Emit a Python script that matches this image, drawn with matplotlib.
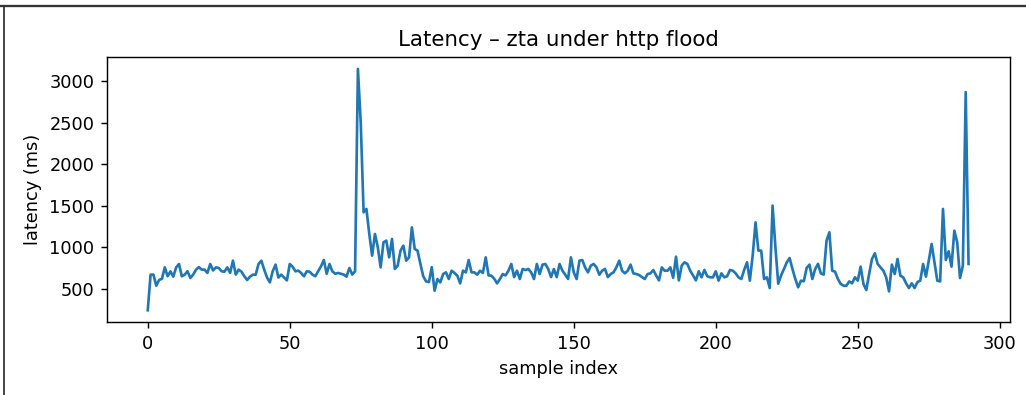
import matplotlib
matplotlib.use("Agg")
import matplotlib.pyplot as plt
from matplotlib.lines import Line2D

latency_ms = [
    240, 669, 670, 536, 605, 620, 757, 650, 709, 645,
    757, 798, 650, 669, 710, 629, 670, 730, 760, 730,
    730, 690, 798, 720, 757, 750, 710, 705, 757, 690,
    838, 670, 730, 705, 650, 605, 645, 669, 669, 798,
    838, 730, 635, 576, 710, 790, 635, 670, 635, 600,
    798, 765, 710, 718, 690, 650, 710, 705, 670, 650,
    710, 770, 846, 680, 798, 710, 680, 690, 680, 670,
    645, 750, 670, 710, 3150, 2500, 1421, 1462, 1160, 898,
    1160, 999, 757, 1059, 1080, 878, 1100, 738, 778, 959,
    1019, 838, 878, 1240, 979, 959, 798, 650, 588, 580,
    760, 476, 617, 576, 677, 697, 617, 717, 690, 657,
    564, 717, 697, 846, 697, 697, 669, 717, 690, 878,
    660, 657, 620, 564, 617, 677, 660, 717, 798, 640,
    717, 617, 738, 725, 738, 697, 617, 798, 677, 790,
    798, 738, 640, 738, 640, 798, 717, 669, 617, 878,
    697, 617, 838, 846, 757, 697, 778, 798, 757, 669,
    717, 738, 640, 677, 697, 757, 838, 717, 685, 717,
    790, 685, 677, 665, 640, 617, 677, 685, 725, 660,
    600, 757, 717, 717, 757, 632, 886, 600, 778, 818,
    798, 717, 660, 600, 710, 637, 726, 650, 637, 637,
    709, 597, 685, 637, 650, 726, 717, 685, 637, 617,
    726, 818, 597, 900, 1300, 959, 959, 617, 637, 508,
    1502, 999, 560, 660, 737, 818, 870, 737, 617, 517,
    597, 590, 750, 790, 617, 737, 800, 685, 670, 1080,
    1180, 717, 705, 617, 557, 536, 536, 588, 565, 637,
    597, 766, 556, 484, 677, 858, 927, 798, 757, 717,
    637, 468, 790, 677, 858, 657, 637, 565, 508, 565,
    508, 580, 597, 798, 645, 838, 1040, 818, 597, 588,
    1462, 846, 951, 766, 1200, 1060, 629, 778, 2871, 798,
]
sample_index = list(range(len(latency_ms)))

title = "Latency \u2013 zta under http flood"
xlabel = "sample index"
ylabel = "latency (ms)"

DPI = 128
fig = plt.figure(figsize=(1026 / DPI, 395 / DPI), dpi=DPI)
ax = fig.add_axes([0.104, 0.184, 0.880, 0.672])
ax.plot(sample_index, latency_ms, color="#1f77b4", linewidth=1.5)
ax.set_title(title, fontsize=12)
ax.set_xlabel(xlabel)
ax.set_ylabel(ylabel)

# screenshot frame lines (top and left)
fig.add_artist(Line2D([0.0, 1.0], [1 - 5.8 / 395, 1 - 5.8 / 395],
                      transform=fig.transFigure, color="#333333", linewidth=1.3))
fig.add_artist(Line2D([3.8 / 1026, 3.8 / 1026], [0.0, 1 - 5.8 / 395],
                      transform=fig.transFigure, color="#333333", linewidth=1.0))

fig.savefig("out.png", dpi=DPI)
